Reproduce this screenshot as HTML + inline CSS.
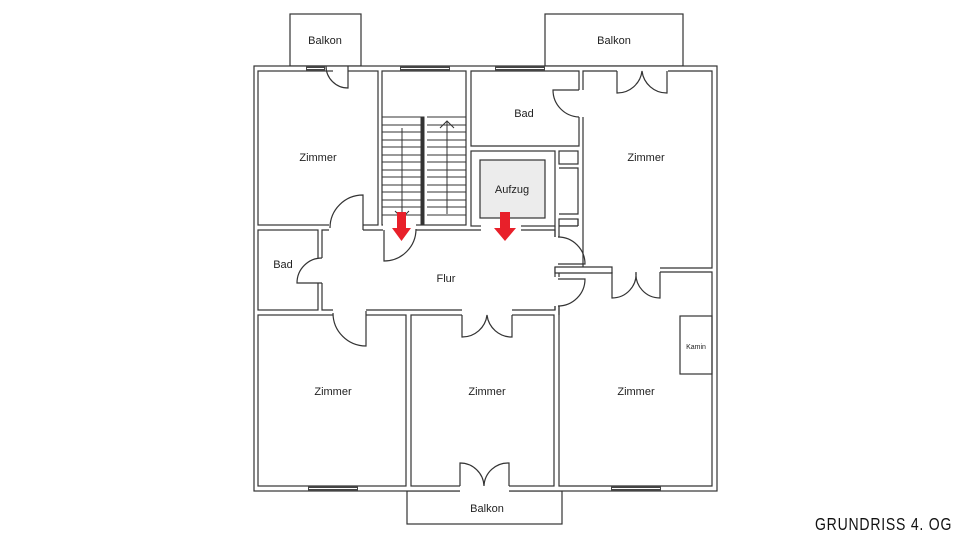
<!DOCTYPE html>
<html><head><meta charset="utf-8"><style>
html,body{margin:0;padding:0;background:#fff;width:960px;height:540px;overflow:hidden}
text{font-family:"Liberation Sans",sans-serif;fill:#222}
</style></head><body>
<svg width="960" height="540" viewBox="0 0 960 540" xmlns="http://www.w3.org/2000/svg">
<g fill="none" stroke="#333" stroke-width="1.2">
<rect x="290" y="14" width="71" height="52" fill="#fff"/>
<rect x="545" y="14" width="138" height="52" fill="#fff"/>
<rect x="407" y="491" width="155" height="33" fill="#fff"/>
<rect x="254" y="66" width="463" height="425" fill="#fff"/>
<rect x="258" y="71" width="120" height="154"/>
<rect x="382" y="71" width="84" height="154"/>
<path d="M471 71 H579 V146 H471 Z"/>
<rect x="471" y="151" width="84" height="75"/>
<rect x="480" y="160" width="65" height="58" fill="#ececec"/>
<rect x="559" y="151" width="19" height="13"/>
<rect x="559" y="219" width="19" height="7"/>
<path d="M583 71 H712 V268 H583 Z"/>
<path d="M559 168 H578 V214 H559"/>
<rect x="258" y="230" width="60" height="80"/>
<path d="M322 230 H555 V310 H322 Z"/>
<rect x="258" y="315" width="148" height="171"/>
<rect x="411" y="315" width="143" height="171"/>
<path d="M559 315 V272 H712 V486 H559 Z"/>
<rect x="680" y="316" width="32" height="58"/>
<path d="M555 268 H612 M555 272 H612"/>
</g>
<g fill="#fff" stroke="none">
<rect x="333" y="70" width="15" height="2"/>
<rect x="617" y="70" width="51" height="2"/>
<rect x="578" y="90" width="6" height="27"/>
<rect x="329" y="224" width="34" height="7"/>
<rect x="383" y="224" width="33" height="7"/>
<rect x="481" y="224" width="40" height="7"/>
<rect x="317" y="258" width="6" height="25"/>
<rect x="554" y="237" width="6" height="30"/>
<rect x="554" y="277" width="6" height="29"/>
<rect x="612" y="267" width="48" height="6"/>
<rect x="333" y="309" width="33" height="7"/>
<rect x="462" y="309" width="50" height="7"/>
<rect x="460" y="485" width="49" height="7"/>
<rect x="557" y="226" width="24" height="46"/>
</g>
<g fill="none" stroke="#333" stroke-width="1.2">
<path d="M555 226 V237 M559 226 V237 M555 306 V310 M559 306 V315"/>
<path d="M555 267 H612 V273 H555 Z" fill="#fff"/>
<path d="M559 226 H578 M578 226 V219"/>
<path d="M348 66 V88 A22 22 0 0 1 326 66"/>
<path d="M617 71 V93 A25 25 0 0 0 642 71 A25 25 0 0 0 667 93 V71"/>
<path d="M579 117 A27 27 0 0 1 553 90 H579"/>
<path d="M363 230 V195 A33 33 0 0 0 330 228"/>
<path d="M384 230 V261 A32 32 0 0 0 416 229"/>
<path d="M322 258 A25 25 0 0 0 297 283 H322"/>
<path d="M558 237 A27 27 0 0 1 585 264 H558"/>
<path d="M558 306 A27 27 0 0 0 585 279 H558"/>
<path d="M612 272 V298 A24 24 0 0 0 636 272 A24 24 0 0 0 660 298 V272"/>
<path d="M366 311 V346 A33 33 0 0 1 333 313"/>
<path d="M462 315 V337 A25 25 0 0 0 487 315 A25 25 0 0 0 512 337 V315"/>
<path d="M460 486 V463 A24 24 0 0 1 484 486 A24 24 0 0 1 509 463 V486"/>
</g>
<g stroke="#333" stroke-width="1" fill="none">
<path d="M382 117 H421 M427 117 H466
M382 125 H421 M427 125 H466 M382 132 H421 M427 132 H466 M382 140 H421 M427 140 H466
M382 147 H421 M427 147 H466 M382 155 H421 M427 155 H466 M382 162 H421 M427 162 H466
M382 170 H421 M427 170 H466 M382 177 H421 M427 177 H466 M382 185 H421 M427 185 H466
M382 192 H421 M427 192 H466 M382 200 H421 M427 200 H466 M382 207 H421 M427 207 H466
M382 215 H421 M427 215 H466"/>
<path d="M402 128 V218 M447 214 V121 M440 128 L447 121 L454 128 M395 211 L402 218 L409 211"/>
<rect x="421" y="117" width="3" height="108" fill="#333"/>
</g>
<g fill="#444">
<rect x="306" y="66" width="19" height="5"/>
<rect x="400" y="66" width="50" height="5"/>
<rect x="495" y="66" width="50" height="5"/>
<rect x="308" y="486" width="50" height="5"/>
<rect x="611" y="486" width="50" height="5"/>
</g>
<g fill="#fff">
<rect x="307" y="68" width="17" height="1"/><rect x="401" y="68" width="48" height="1"/><rect x="496" y="68" width="48" height="1"/>
<rect x="309" y="488" width="48" height="1"/><rect x="612" y="488" width="48" height="1"/>
</g>
<g fill="#e8202a">
<path d="M397 212 H406 V228 H411 L401.5 241 L392 228 H397 Z"/>
<path d="M500 212 H510 V228 H516 L505 241 L494 228 H500 Z"/>
</g>
<g font-size="11" text-anchor="middle">
<text x="325" y="44">Balkon</text>
<text x="614" y="44">Balkon</text>
<text x="487" y="512">Balkon</text>
<text x="318" y="161">Zimmer</text>
<text x="646" y="161">Zimmer</text>
<text x="524" y="117">Bad</text>
<text x="512" y="193">Aufzug</text>
<text x="283" y="268">Bad</text>
<text x="446" y="282">Flur</text>
<text x="333" y="395">Zimmer</text>
<text x="487" y="395">Zimmer</text>
<text x="636" y="395">Zimmer</text>
<text x="696" y="349" font-size="7">Kamin</text>
</g>
<text x="815" y="530" font-size="18" transform="translate(815 0) scale(0.78 1) translate(-815 0)" style="letter-spacing:1px;fill:#111">GRUNDRISS 4. OG</text>
</svg>
</body></html>
